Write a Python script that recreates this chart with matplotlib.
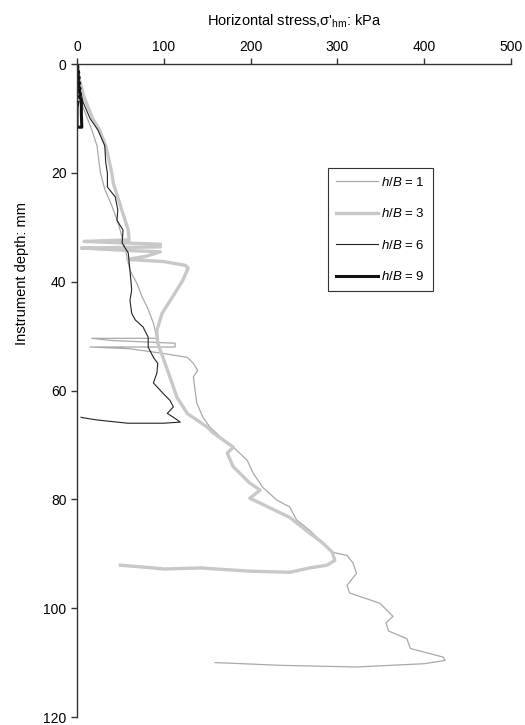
import matplotlib
matplotlib.use("Agg")
import matplotlib.pyplot as plt

plt.rcParams['font.family'] = ['Liberation Sans', 'DejaVu Sans']
plt.rcParams['mathtext.fontset'] = 'custom'
plt.rcParams['mathtext.rm'] = 'Liberation Sans'
plt.rcParams['mathtext.it'] = 'Liberation Sans:italic'
plt.rcParams['mathtext.sf'] = 'Liberation Sans'

# instrument depth (mm) and horizontal stress (kPa) for each h/B
depth_hb1 = [0, 2, 5.7, 8, 10, 12.1, 15, 20, 23, 26, 29, 32.4, 35, 37.9, 40.3, 42.8,
             44.7, 47.6, 50.4, 50.4, 50.8, 51.3, 52, 52, 52.3, 53.1, 53.9, 55, 56.3,
             57.5, 59.9, 62.3, 64.9, 66.7, 68.5, 70.4, 72.8, 75.2, 77.8, 80.1, 81.4,
             83.8, 85.7, 87.5, 89.7, 90.3, 91.7, 93.6, 95.8, 97.2, 99.1, 101.5, 102.7,
             104.2, 105.6, 107.4, 109, 109.6, 110.2, 110.8, 110.5, 110.1, 110]
stress_hb1 = [0, 1, 3.5, 7, 12, 17, 23, 27, 32, 40, 47, 53, 57, 61, 69, 75,
              81, 88, 92, 17, 40, 113, 113, 15, 60, 96, 127, 134, 139,
              134, 136, 138, 145, 153, 165, 180, 196, 203, 214, 230, 245,
              253, 268, 280, 294, 311, 318, 322, 311, 314, 349, 364, 356,
              359, 380, 384, 422, 424, 400, 322, 234, 176, 159]

depth_hb3 = [0, 3, 6, 10, 12.1, 15, 17, 20, 22, 25, 28, 30.5, 32.3, 32.6, 32.9, 33.1,
             33.6, 33.8, 34.2, 34.5, 35.3, 35.9, 36.3, 37, 37.5, 39.7, 42.8, 45.8,
             48.9, 51.3, 53.9, 57.5, 61.2, 64.2, 66.7, 67.8, 70.4, 71.5, 74, 77,
             78.3, 79.8, 80.7, 83.3, 86.2, 88, 89.7, 91.2, 92.1, 92.6, 93.4, 93.2,
             92.6, 92.8, 92.6, 92.1]
stress_hb3 = [0, 3, 8, 18, 26, 33, 36, 40, 42, 48, 54, 59, 60, 8, 60, 96,
              96, 5, 50, 96, 80, 58, 100, 125, 128, 122, 110, 98,
              92, 93, 99, 107, 115, 127, 150, 157, 180, 173, 180, 199,
              211, 199, 211, 245, 268, 283, 294, 297, 288, 268, 245, 200,
              142, 100, 88, 50]

depth_hb6 = [0, 3, 7, 10, 12.1, 15, 18, 20, 22.6, 24.4, 26.8, 28.7, 30.5, 32.9, 34.7,
             37.9, 41.5, 43.4, 45.8, 47, 48.3, 50.2, 52, 53.9, 55, 56.8, 58.6, 60.5,
             61.8, 63, 64.2, 64.9, 65.8, 66, 66, 65.4, 65, 64.9]
stress_hb6 = [0, 1, 7, 15, 24, 32, 33, 35, 35, 44, 47, 46, 53, 52, 59,
              61, 63, 61, 63, 67, 76, 82, 82, 88, 93, 92, 88, 99,
              107, 111, 104, 111, 119, 100, 58, 23, 7, 4.6]

depth_hb9 = [0, 0.5, 1, 1.5, 2, 2.5, 3, 3.5, 4, 4.5, 5, 5.5, 6, 6.5, 7, 9, 11.6, 11.6, 8, 7]
stress_hb9 = [0, 1, 0.5, 2, 1, 2.5, 1, 3, 1.5, 3.5, 2, 4, 2.5, 4.5, 5, 5, 5.5, 0, 0, 1]

fig = plt.figure(figsize=(5.25, 7.25), dpi=100)
ax = fig.add_axes([0.1467, 0.011, 0.8267, 0.9006])

ax.plot(stress_hb1, depth_hb1, color='#a8a8a8', lw=0.9, label=r'$h$/$B$ = 1')
ax.plot(stress_hb3, depth_hb3, color='#c8c8c8', lw=2.4, label=r'$h$/$B$ = 3')
ax.plot(stress_hb6, depth_hb6, color='#222222', lw=0.8, label=r'$h$/$B$ = 6')
ax.plot(stress_hb9, depth_hb9, color='#111111', lw=2.2, label=r'$h$/$B$ = 9')

ax.set_xlim(0, 500)
ax.set_ylim(120, 0)
ax.set_xticks([0, 100, 200, 300, 400, 500])
ax.set_yticks([0, 20, 40, 60, 80, 100, 120])

ax.xaxis.tick_top()
ax.xaxis.set_label_position('top')
ax.set_xlabel(r"Horizontal stress,σ$'_{\mathrm{hm}}$: kPa", fontsize=10.5, labelpad=10)
ax.set_ylabel('Instrument depth: mm', fontsize=10.5)
ax.yaxis.set_label_coords(-0.11, 0.68)

ax.tick_params(axis='both', labelsize=10, length=4, width=1, color='#333333', direction='out')
for side in ['right', 'bottom']:
    ax.spines[side].set_visible(False)
for side in ['left', 'top']:
    ax.spines[side].set_color('#333333')
    ax.spines[side].set_linewidth(1)

leg = ax.legend(loc='upper left', bbox_to_anchor=(0.578, 0.841), fontsize=9.5,
                frameon=True, fancybox=False, edgecolor='#333333', framealpha=1,
                handlelength=3.2, handletextpad=0.25, labelspacing=1.4,
                borderpad=0.6, borderaxespad=0)
leg.get_frame().set_linewidth(0.8)

fig.savefig('out.png', dpi=100)
